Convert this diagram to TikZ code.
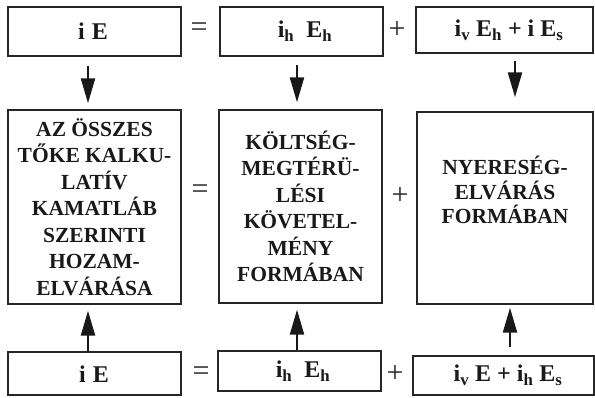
\documentclass[tikz,border=0pt]{standalone}
\usepackage{fontspec}
\setmainfont{Liberation Serif}
\usetikzlibrary{arrows.meta}
\begin{document}
\begin{tikzpicture}[x=1pt,y=-1pt,
  box/.style={draw=black!85,line width=1.4pt,inner sep=0pt,minimum width=#1},
  formula/.style={font=\bfseries\fontsize{24}{26}\selectfont,text=black!90},
  bigtext/.style={font=\bfseries\fontsize{21.5}{26.5}\selectfont,align=center,text=black!90},
  opsym/.style={font=\fontsize{30}{30}\selectfont,text=black!85},
  arr/.style={line width=2.3pt,draw=black!90,-{Triangle[length=25pt,width=14pt]}}]
\useasboundingbox (0,0) rectangle (595,397);
% top row
\node[box=173pt,minimum height=49pt] (t1) at (94.5,31.5) {};
\node[box=163pt,minimum height=49pt] (t2) at (301.5,31.5) {};
\node[box=177pt,minimum height=46pt] (t3) at (504.5,30) {};
\node[formula] (t1l) at (93,31.5) {i\hspace{0.3em}E};
\node[formula] (t2l) at (305,31.5) {i\textsubscript{h}\hspace{0.5em}E\textsubscript{h}};
\node[formula] (t3l) at (509,30) {i\textsubscript{v} E\textsubscript{h} + i E\textsubscript{s}};
\node[opsym] (eq1) at (199,30) {=};
\node[opsym] (pl1) at (397,30) {+};
% middle row
\node[box=173pt,minimum height=194pt,bigtext] (m1) at (94.5,207) {AZ ÖSSZES\\TŐKE KALKU-\\LATÍV\\KAMATLÁB\\SZERINTI\\HOZAM-\\ELVÁRÁSA};
\node[box=163pt,minimum height=193pt,bigtext] (m2) at (300.5,206.5) {KÖLTSÉG-\\MEGTÉRÜ-\\LÉSI\\KÖVETEL-\\MÉNY\\FORMÁBAN};
\node[box=176pt,minimum height=192pt] (m3) at (505,208) {};
\node[bigtext,font=\bfseries\fontsize{21.5}{24.5}\selectfont] (m3l) at ([yshift=18pt]m3.center) {NYERESÉG-\\ELVÁRÁS\\FORMÁBAN};
\node[opsym] (eq2) at (200,192) {=};
\node[opsym] (pl2) at (400,196) {+};
% bottom row
\node[box=173pt,minimum height=43pt] (b1) at (94.5,373.5) {};
\node[box=163pt,minimum height=40pt] (b2) at (299.5,371) {};
\node[box=181pt,minimum height=39pt] (b3) at (503.5,375.5) {};
\node[formula] (b1l) at (94,374) {i\hspace{0.3em}E};
\node[formula] (b2l) at (303,371) {i\textsubscript{h}\hspace{0.5em}E\textsubscript{h}};
\node[formula] (b3l) at (508,375) {i\textsubscript{v} E + i\textsubscript{h} E\textsubscript{s}};
\node[opsym] (eq3) at (201,374) {=};
\node[opsym] (pl3) at (395,374) {+};
% arrows
\draw[arr,shorten <=9pt,shorten >=6pt] ([xshift=-6.5pt]t1.south) -- ([xshift=-6.5pt]m1.north);
\draw[arr,shorten <=8pt,shorten >=7pt] ([xshift=-4.5pt]t2.south) -- ([xshift=-3.5pt]m2.north);
\draw[arr,shorten <=7pt,shorten >=14pt] ([xshift=10.5pt]t3.south) -- ([xshift=10pt]m3.north);
\draw[arr,shorten >=6pt] ([xshift=-6.5pt]b1.north) -- ([xshift=-6.5pt]m1.south);
\draw[arr,shorten >=6pt] ([xshift=-2.5pt]b2.north) -- ([xshift=-3.5pt]m2.south);
\draw[arr,shorten <=8pt,shorten >=3pt] ([xshift=6.5pt]b3.north) -- ([xshift=5pt]m3.south);
\end{tikzpicture}
\end{document}
